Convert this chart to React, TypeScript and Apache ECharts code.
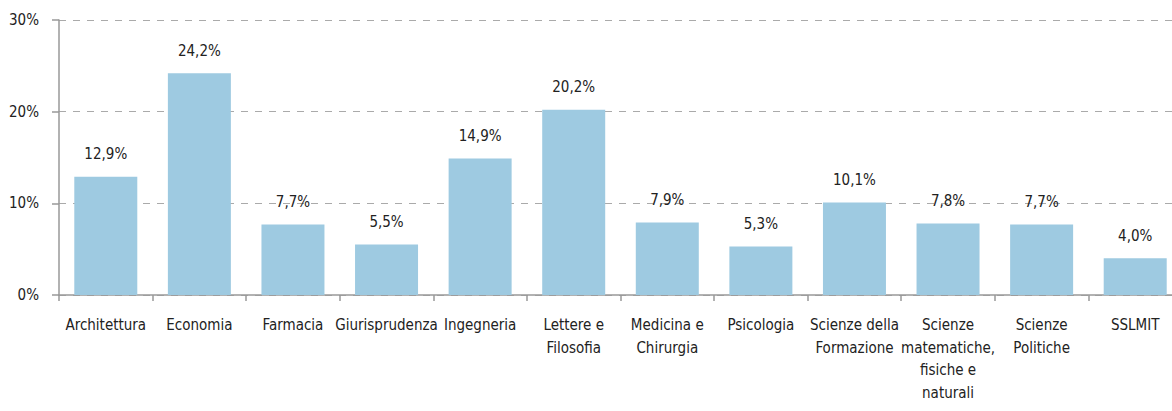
import React, { useEffect, useRef } from "react";
import * as echarts from "echarts";

const categories = [
  "Architettura",
  "Economia",
  "Farmacia",
  "Giurisprudenza",
  "Ingegneria",
  "Lettere e\nFilosofia",
  "Medicina e\nChirurgia",
  "Psicologia",
  "Scienze della\nFormazione",
  "Scienze\nmatematiche,\nfisiche e\nnaturali",
  "Scienze\nPolitiche",
  "SSLMIT",
];
const values = [12.9, 24.2, 7.7, 5.5, 14.9, 20.2, 7.9, 5.3, 10.1, 7.8, 7.7, 4.0];
const yTicks = [0, 10, 20, 30];

const FONT = "'DejaVu Sans Condensed', 'Liberation Sans Narrow', sans-serif";

export default function App() {
  const ref = useRef<HTMLDivElement>(null);
  useEffect(() => {
    if (!ref.current) return;
    const chart = echarts.init(ref.current, undefined, { renderer: "svg" });
    chart.setOption({
      animation: false,
      textStyle: { fontFamily: FONT },
      grid: { left: 59, right: 0, top: 20, bottom: 116, containLabel: false },
      xAxis: {
        type: "category",
        data: categories,
        axisLine: { lineStyle: { color: "#999", width: 1.5 } },
        axisTick: { show: true, length: 6, lineStyle: { color: "#999", width: 1.5 } },
        axisLabel: {
          interval: 0,
          color: "#222",
          fontSize: 15,
          lineHeight: 22.5,
          margin: 19,
          fontFamily: FONT,
        },
      },
      yAxis: {
        type: "value",
        min: yTicks[0],
        max: yTicks[yTicks.length - 1],
        interval: 10,
        axisLine: { show: true, lineStyle: { color: "#999", width: 1.5 } },
        axisTick: { show: true, length: 7, lineStyle: { color: "#999", width: 1.5 } },
        axisLabel: {
          color: "#222",
          fontSize: 15,
          margin: 20,
          fontFamily: FONT,
          formatter: (v: number) => `${v}%`,
        },
        splitLine: { show: true, lineStyle: { color: "#aaa", type: [7, 7], width: 1 } },
      },
      series: [
        {
          type: "bar",
          data: values,
          barWidth: 63,
          itemStyle: { color: "#9ECAE1" },
          label: {
            show: true,
            position: "top",
            distance: 15,
            color: "#222",
            fontSize: 15,
            fontFamily: FONT,
            formatter: (p: any) => `${p.value.toFixed(1).replace(".", ",")}%`,
          },
        },
      ],
    });
    return () => chart.dispose();
  }, []);
  return (
    <div style={{ position: "absolute", left: 0, top: 0, width: 1172, height: 411, overflow: "hidden" }}>
      <div ref={ref} style={{ width: 1182, height: 411 }} />
    </div>
  );
}
